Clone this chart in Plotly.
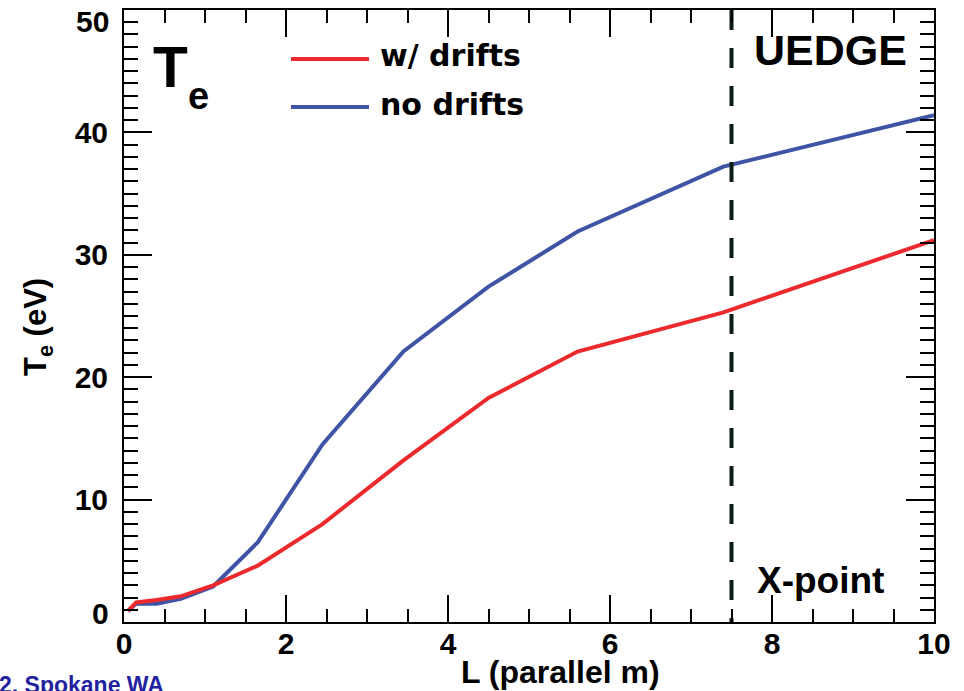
import plotly.graph_objects as go

# Parallel distance along the field line (m)
L_parallel = [0.05, 0.15, 0.4, 0.7, 1.1, 1.65, 2.45, 3.45, 4.5, 5.6, 7.4, 10.0]
# Electron temperature (eV)
Te_drifts = [0.9, 1.6, 1.8, 2.1, 3.0, 4.6, 8.0, 13.2, 18.3, 22.1, 25.3, 31.2]
Te_no_drifts = [0.9, 1.5, 1.5, 1.9, 2.9, 6.5, 14.5, 22.1, 27.4, 31.9, 37.2, 41.4]

series_names = ["w/ drifts", "no drifts"]
series_colors = ["#ec2a2e", "#3f54a4"]

x_point_L = 7.5
x_ticks = [0, 2, 4, 6, 8, 10]
y_ticks = [0, 10, 20, 30, 40, 50]

W, H = 964, 691
ML, MR, MT, MB = 124, 30, 10, 69
PW, PH = W - ML - MR, H - MT - MB


def px(x):
    return (x - ML) / PW


def py(y):
    return (H - MB - y) / PH


fig = go.Figure()

fig.add_trace(go.Scatter(x=L_parallel, y=Te_no_drifts, mode="lines",
                         name=series_names[1],
                         line=dict(color=series_colors[1], width=4),
                         showlegend=False))
fig.add_trace(go.Scatter(x=L_parallel, y=Te_drifts, mode="lines",
                         name=series_names[0],
                         line=dict(color=series_colors[0], width=4),
                         showlegend=False))

# X-point marker
fig.add_trace(go.Scatter(x=[x_point_L, x_point_L], y=[50, 0], mode="lines",
                         line=dict(color="#0b1d18", width=4, dash="20px,18px"),
                         showlegend=False, hoverinfo="skip"))

tick_font = dict(family="Liberation Sans", size=30, color="black", weight="bold")

# the end labels of the y axis are nudged inward, so they are drawn separately
y_end_ticks = {y_ticks[0]: 9, y_ticks[-1]: -11}
y_ticktext = ["" if v in y_end_ticks else str(v) for v in y_ticks]

fig.update_xaxes(range=[0, 10], tickvals=x_ticks, ticktext=[str(v) for v in x_ticks],
                 ticks="inside", ticklen=27, tickwidth=2, tickcolor="black",
                 minor=dict(dtick=0.5, tick0=0, ticks="inside", ticklen=13,
                            tickwidth=2, tickcolor="black"),
                 showline=True, linecolor="black", linewidth=2, mirror="ticks",
                 showgrid=False, zeroline=False, ticklabelstandoff=-6,
                 ticklabeloverflow="allow", automargin=False, tickfont=tick_font)
fig.update_yaxes(range=[0, 50], tickvals=y_ticks, ticktext=y_ticktext,
                 ticks="inside", ticklen=28, tickwidth=2, tickcolor="black",
                 minor=dict(dtick=1, tick0=0, ticks="inside", ticklen=14,
                            tickwidth=2, tickcolor="black"),
                 showline=True, linecolor="black", linewidth=2, mirror="ticks",
                 showgrid=False, zeroline=False, ticklabelstandoff=8,
                 ticklabeloverflow="allow", automargin=False, tickfont=tick_font)

bold = dict(family="Liberation Sans", color="black", weight="bold")
ann = []
for v, shift in y_end_ticks.items():
    ann.append(dict(text=str(v), x=px(111), y=v, xref="paper", yref="y",
                    xanchor="right", yanchor="middle", yshift=shift, showarrow=False,
                    font=tick_font))
# axis titles
ann.append(dict(text="L (parallel m)", x=px(560), y=py(672), xref="paper", yref="paper",
                xanchor="center", yanchor="middle", showarrow=False,
                font=dict(size=32, **bold)))
ann.append(dict(text="T<sub>e</sub> (eV)", x=px(38), y=py(327), xref="paper", yref="paper",
                xanchor="center", yanchor="middle", showarrow=False, textangle=-90,
                font=dict(size=31, **bold)))
# panel label
ann.append(dict(text="T", x=px(151), y=py(67), xref="paper", yref="paper",
                xanchor="left", yanchor="middle", showarrow=False,
                font=dict(size=57, **bold)))
ann.append(dict(text="e", x=px(186), y=py(96), xref="paper", yref="paper",
                xanchor="left", yanchor="middle", showarrow=False,
                font=dict(size=38, **bold)))
ann.append(dict(text="UEDGE", x=px(752), y=py(50), xref="paper", yref="paper",
                xanchor="left", yanchor="middle", showarrow=False,
                font=dict(size=43, **bold)))
ann.append(dict(text="X-point", x=px(755), y=py(580), xref="paper", yref="paper",
                xanchor="left", yanchor="middle", showarrow=False,
                font=dict(size=37, **bold)))
# legend entries
legend_y = [59, 107]
shapes = []
for name, color, ly in zip(series_names, series_colors, legend_y):
    shapes.append(dict(type="line", xref="paper", yref="paper",
                       x0=px(291), x1=px(369), y0=py(ly), y1=py(ly),
                       line=dict(color=color, width=4)))
    ann.append(dict(text=name, x=px(378), y=py(ly - 3), xref="paper", yref="paper",
                    xanchor="left", yanchor="middle", showarrow=False,
                    font=dict(family="DejaVu Sans", size=30, color="black", weight="bold")))
# footer
ann.append(dict(text="2, Spokane WA", x=px(-3), y=py(670), xref="paper", yref="paper",
                xanchor="left", yanchor="top", showarrow=False,
                font=dict(family="Liberation Sans", size=23, color="#2222a0", weight="bold")))

fig.update_layout(width=W, height=H, margin=dict(l=ML, r=MR, t=MT, b=MB),
                  paper_bgcolor="white", plot_bgcolor="white",
                  annotations=ann, shapes=shapes, showlegend=False)

fig.write_html("out.html")
